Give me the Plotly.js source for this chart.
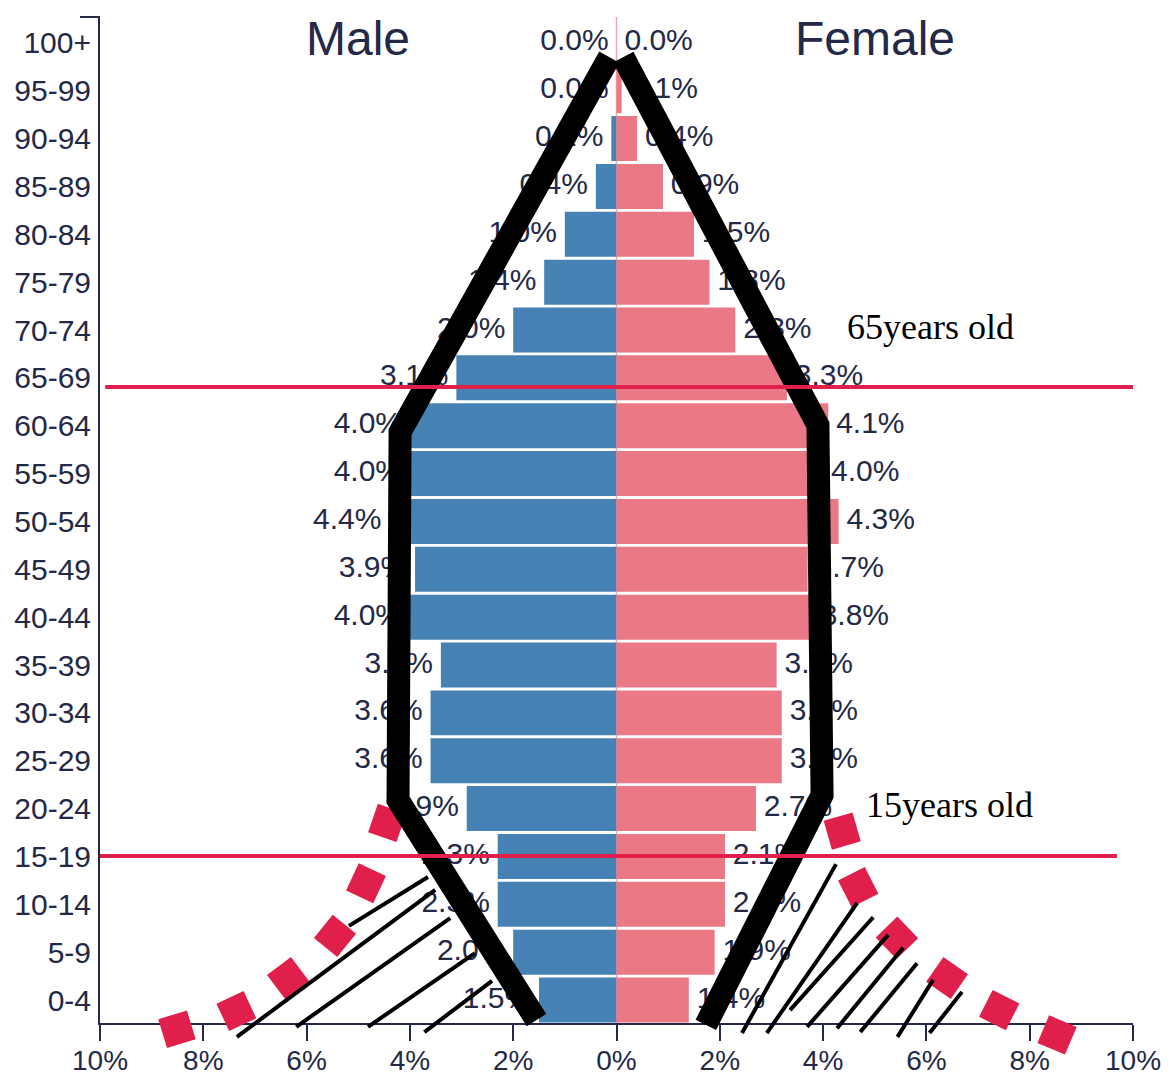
<!DOCTYPE html>
<html>
<head>
<meta charset="utf-8">
<script src="https://cdn.plot.ly/plotly-3.0.1.min.js"></script>
<style>html,body{margin:0;padding:0;background:#fff;}#chart{width:1168px;height:1077px;}</style>
</head>
<body>
<div id="chart"></div>
<script>
// ---- data (percent of population) ----
const ageGroups = ['0-4','5-9','10-14','15-19','20-24','25-29','30-34','35-39','40-44','45-49','50-54','55-59','60-64','65-69','70-74','75-79','80-84','85-89','90-94','95-99','100+'];
const maleValues   = [1.5,2.0,2.3,2.3,2.9,3.6,3.6,3.4,4.0,3.9,4.4,4.0,4.0,3.1,2.0,1.4,1.0,0.4,0.1,0.0,0.0];
const femaleValues = [1.4,1.9,2.1,2.1,2.7,3.2,3.2,3.1,3.8,3.7,4.3,4.0,4.1,3.3,2.3,1.8,1.5,0.9,0.4,0.1,0.0];
const xTickValues = [-10,-8,-6,-4,-2,0,2,4,6,8,10];
const xTickLabels = ['10%','8%','6%','4%','2%','0%','2%','4%','6%','8%','10%'];

// ---- hand-drawn overlay (x in %, y in age-row units) ----
const blackLeftX  = [-0.14, -4.19, -4.23, -1.55];
const blackLeftY  = [19.70, 11.87, 4.18, -0.42];
const blackRightX = [0.13, 3.90, 3.98, 1.73];
const blackRightY = [19.70, 12.01, 4.28, -0.52];

const hatchLeftX  = [-3.65,-5.18,null,-3.51,-7.35,null,-3.22,-6.20,null,-2.74,-4.81,null,-2.41,-3.72];
const hatchLeftY  = [2.57,1.55,null,2.30,-0.77,null,1.71,-0.56,null,0.98,-0.56,null,0.40,-0.67];
const hatchRightX = [4.25,2.43,null,4.66,2.91,null,4.97,3.36,null,5.26,3.69,null,5.55,4.27,null,5.82,4.72,null,6.13,5.44,null,6.69,6.06];
const hatchRightY = [2.84,-0.69,null,2.03,-0.69,null,1.73,-0.21,null,1.36,-0.56,null,1.09,-0.59,null,0.77,-0.67,null,0.42,-0.77,null,0.17,-0.69];

const dotsLeftX  = [-4.44,-4.85,-5.45,-6.36,-7.36,-8.51];
const dotsLeftY  = [3.70,2.44,1.34,0.46,-0.23,-0.61];
const dotsLeftAngle = [19,25,39,53,65,73];
const dotsRightX = [4.37,4.68,5.43,6.40,7.41,8.53];
const dotsRightY = [3.53,2.36,1.30,0.46,-0.21,-0.73];
const dotsRightAngle = [74,63,46,35,27,23];

const redLineUpperX = [-9.90, 10];
const redLineUpperY = [12.81, 12.81];
const redLineLowerX = [-10, 9.69];
const redLineLowerY = [3.01, 3.01];

const markerNotes = [{text:'65years old', x:4.43, y:14.06}, {text:'15years old', x:4.80, y:4.08}];

// ---- styles ----
const NAVY = '#232946';
const BLUE = '#4682b4';
const PINK = '#ea7985';
const RED = '#e01f4b';
const FONT = 'Liberation Sans, Arial, sans-serif';

const idx = ageGroups.map((_, i) => i);

const labelTrace = (xs, vals, pos) => ({
  type:'scatter', mode:'markers+text', y:idx, x:xs, text:vals.map(v => v.toFixed(1)+'%'),
  textposition:pos, marker:{size:11, opacity:0}, textfont:{family:FONT, size:30, color:NAVY},
  cliponaxis:false, hoverinfo:'skip', xaxis:'x', yaxis:'y'
});

const traces = [
  {type:'bar', orientation:'h', y:idx, x:maleValues.map(v => -v), marker:{color:BLUE, line:{width:0}}, hoverinfo:'skip', xaxis:'x', yaxis:'y'},
  {type:'bar', orientation:'h', y:idx, x:femaleValues, marker:{color:PINK, line:{width:0}}, hoverinfo:'skip', xaxis:'x', yaxis:'y'},
  labelTrace(maleValues.map(v => -v), maleValues, 'middle left'),
  labelTrace(femaleValues, femaleValues, 'middle right'),
  // overlay subplot
  {type:'scatter', mode:'markers', x:dotsLeftX, y:dotsLeftY, marker:{symbol:'square', size:30, color:RED, angle:dotsLeftAngle, line:{width:0}}, cliponaxis:false, hoverinfo:'skip', xaxis:'x2', yaxis:'y2'},
  {type:'scatter', mode:'markers', x:dotsRightX, y:dotsRightY, marker:{symbol:'square', size:30, color:RED, angle:dotsRightAngle, line:{width:0}}, cliponaxis:false, hoverinfo:'skip', xaxis:'x2', yaxis:'y2'},
  {type:'scatter', mode:'lines', x:blackLeftX, y:blackLeftY, line:{color:'#000', width:23}, hoverinfo:'skip', xaxis:'x2', yaxis:'y2'},
  {type:'scatter', mode:'lines', x:blackRightX, y:blackRightY, line:{color:'#000', width:23}, hoverinfo:'skip', xaxis:'x2', yaxis:'y2'},
  {type:'scatter', mode:'lines', x:hatchLeftX, y:hatchLeftY, connectgaps:false, line:{color:'#000', width:4}, hoverinfo:'skip', xaxis:'x2', yaxis:'y2'},
  {type:'scatter', mode:'lines', x:hatchRightX, y:hatchRightY, connectgaps:false, line:{color:'#000', width:4}, hoverinfo:'skip', xaxis:'x2', yaxis:'y2'},
  {type:'scatter', mode:'lines', x:redLineUpperX, y:redLineUpperY, line:{color:RED, width:4}, hoverinfo:'skip', xaxis:'x2', yaxis:'y2'},
  {type:'scatter', mode:'lines', x:redLineLowerX, y:redLineLowerY, line:{color:RED, width:4}, hoverinfo:'skip', xaxis:'x2', yaxis:'y2'}
];

const annotations = [
  {x:-5, y:20.1, xref:'x', yref:'y', text:'Male', showarrow:false, font:{family:FONT, size:48, color:NAVY}},
  {x:5, y:20.1, xref:'x', yref:'y', text:'Female', showarrow:false, font:{family:FONT, size:48, color:NAVY}}
].concat(markerNotes.map(n => ({x:n.x, y:n.y, xref:'x', yref:'y', text:n.text, showarrow:false, xanchor:'left',
  font:{family:'Liberation Serif, Times New Roman, serif', size:36, color:'#000'}})));

const layout = {
  width:1168, height:1077,
  margin:{l:100, r:35, t:17, b:14},
  paper_bgcolor:'#fff', plot_bgcolor:'rgba(0,0,0,0)',
  showlegend:false, barmode:'relative', bargap:0.06,
  xaxis:{domain:[0,1], range:[-10,10], anchor:'y', tickvals:xTickValues, ticktext:xTickLabels,
    showgrid:false, zeroline:false, showline:true, linecolor:NAVY, linewidth:2,
    ticks:'outside', ticklen:16, tickwidth:2, tickcolor:NAVY, ticklabelstandoff:-5,
    tickfont:{family:FONT, size:28, color:NAVY}, fixedrange:true},
  yaxis:{domain:[0.03824,1], range:[-0.48,20.54], anchor:'x', tickvals:idx, ticktext:ageGroups,
    showgrid:false, zeroline:false, showline:true, linecolor:NAVY, linewidth:2, ticks:'', ticklabelstandoff:1,
    tickfont:{family:FONT, size:30, color:NAVY}, fixedrange:true},
  xaxis2:{domain:[0,1], range:[-10,10], anchor:'y2', visible:false, fixedrange:true},
  yaxis2:{domain:[0,1], range:[-1.316,20.54], anchor:'x2', visible:false, fixedrange:true},
  shapes:[
    {type:'line', xref:'x', yref:'y', x0:0, x1:0, y0:-0.48, y1:20.54, line:{color:'#f2a9b1', width:1.5}, layer:'below'},
    {type:'line', xref:'paper', yref:'paper', x0:-0.0194, x1:0, y0:1, y1:1, line:{color:NAVY, width:2}}
  ],
  annotations:annotations
};

Plotly.newPlot('chart', traces, layout, {displayModeBar:false, staticPlot:true});
</script>
</body>
</html>
